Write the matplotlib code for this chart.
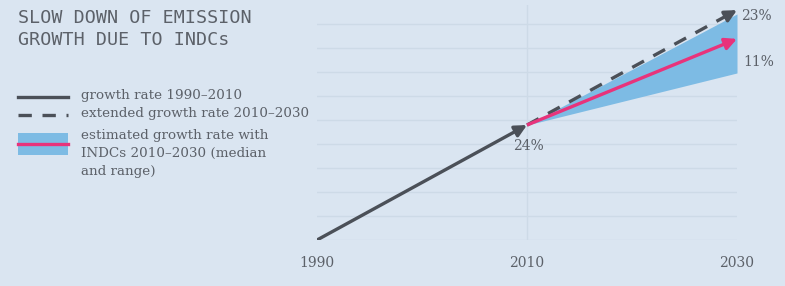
import matplotlib
matplotlib.use("Agg")
import matplotlib.pyplot as plt
from matplotlib.patches import Rectangle
from matplotlib.lines import Line2D

# Data (grid units)
hist_years = [1990, 2010]
hist_vals = [0.0, 4.79]
ext_years = [2010, 2030]
ext_vals = [4.79, 9.58]
indc_years = [2010, 2030]
indc_median = [4.79, 8.38]
indc_low = [4.79, 6.96]
indc_high = [4.79, 9.42]
xticks = [1990, 2010, 2030]
labels_pct = {"start": "24%", "ext": "23%", "indc": "11%"}

BG = "#dae5f1"
GRID = "#cddae7"
DARK = "#4b5058"
PINK = "#e8337b"
BAND = "#7dbbe4"
TXT = "#5c6169"

fig = plt.figure(figsize=(7.85, 2.86), dpi=100, facecolor=BG)
ax = fig.add_axes([317/785, 46/286, 420/785, 235/286])
ax.set_facecolor(BG)
ax.set_xlim(1990, 2030)
ax.set_ylim(0, 235/24)
for s in ax.spines.values():
    s.set_visible(False)
ax.tick_params(left=False, bottom=False, labelleft=False)
ax.set_yticks([])
ax.set_xticks(xticks)
ax.set_xticklabels([str(t) for t in xticks], family="DejaVu Serif", fontsize=10, color=TXT)
ax.tick_params(axis="x", pad=8)

for g in range(0, 10):
    ax.axhline(g, color=GRID, lw=1.0, zorder=0)
ax.axvline(2010, color=GRID, lw=1.0, zorder=0)

ax.fill_between(indc_years, indc_low, indc_high, color=BAND, lw=0, zorder=1)

def arrow_line(xs, ys, color, ls="-", lw=2.4, dashes=None):
    kw = dict(color=color, lw=lw, solid_capstyle="butt", zorder=3)
    if dashes:
        kw["dashes"] = dashes
    ax.plot(xs[:1] + [xs[0] + (xs[1]-xs[0])*0.97], ys[:1] + [ys[0] + (ys[1]-ys[0])*0.97], ls, **kw)
    ax.annotate("", xy=(xs[1], ys[1]),
                xytext=(xs[0] + (xs[1]-xs[0])*0.95, ys[0] + (ys[1]-ys[0])*0.95),
                arrowprops=dict(arrowstyle="-|>,head_length=0.7,head_width=0.35",
                                color=color, lw=lw, shrinkA=0, shrinkB=0), zorder=4)

arrow_line(hist_years, hist_vals, DARK)
arrow_line(ext_years, ext_vals, DARK, ls="--", dashes=(4, 3.2))
arrow_line(indc_years, indc_median, PINK)

ax.text(2010.1, 4.79 - 0.6, labels_pct["start"], family="DejaVu Serif", fontsize=10,
        color=TXT, ha="center", va="top")
ax.text(2030.4, 9.35, labels_pct["ext"], family="DejaVu Serif", fontsize=10,
        color=TXT, ha="left", va="center")
ax.text(2030.6, 7.4, labels_pct["indc"], family="DejaVu Serif", fontsize=10,
        color=TXT, ha="left", va="center")

def fy(py):
    return 1 - py/286

# Title
tkw = dict(family="DejaVu Sans Mono", fontsize=13.2, color=TXT, ha="left", va="center")
fig.text(18/785, fy(18), "SLOW DOWN OF EMISSION", **tkw)
fig.text(18/785, fy(40), "GROWTH DUE TO INDCs", **tkw)

# Legend
fig.add_artist(Line2D([18/785, 68/785], [fy(97), fy(97)], color=DARK, lw=2.4))
fig.add_artist(Line2D([18/785, 68/785], [fy(115), fy(115)], color=DARK, lw=2.4,
                      dashes=(4, 3.2)))
fig.add_artist(Rectangle((18/785, fy(155)), 50/785, 22/286, transform=fig.transFigure,
                         color=BAND, lw=0))
fig.add_artist(Line2D([18/785, 68/785], [fy(144), fy(144)], color=PINK, lw=2.4))
lkw = dict(family="DejaVu Serif", fontsize=9.7, color=TXT, ha="left", va="center")
fig.text(81/785, fy(96), "growth rate 1990–2010", **lkw)
fig.text(81/785, fy(114), "extended growth rate 2010–2030", **lkw)
fig.text(81/785, fy(135), "estimated growth rate with", **lkw)
fig.text(81/785, fy(153), "INDCs 2010–2030 (median", **lkw)
fig.text(81/785, fy(172), "and range)", **lkw)

fig.savefig("out.png", dpi=100, facecolor=BG)
